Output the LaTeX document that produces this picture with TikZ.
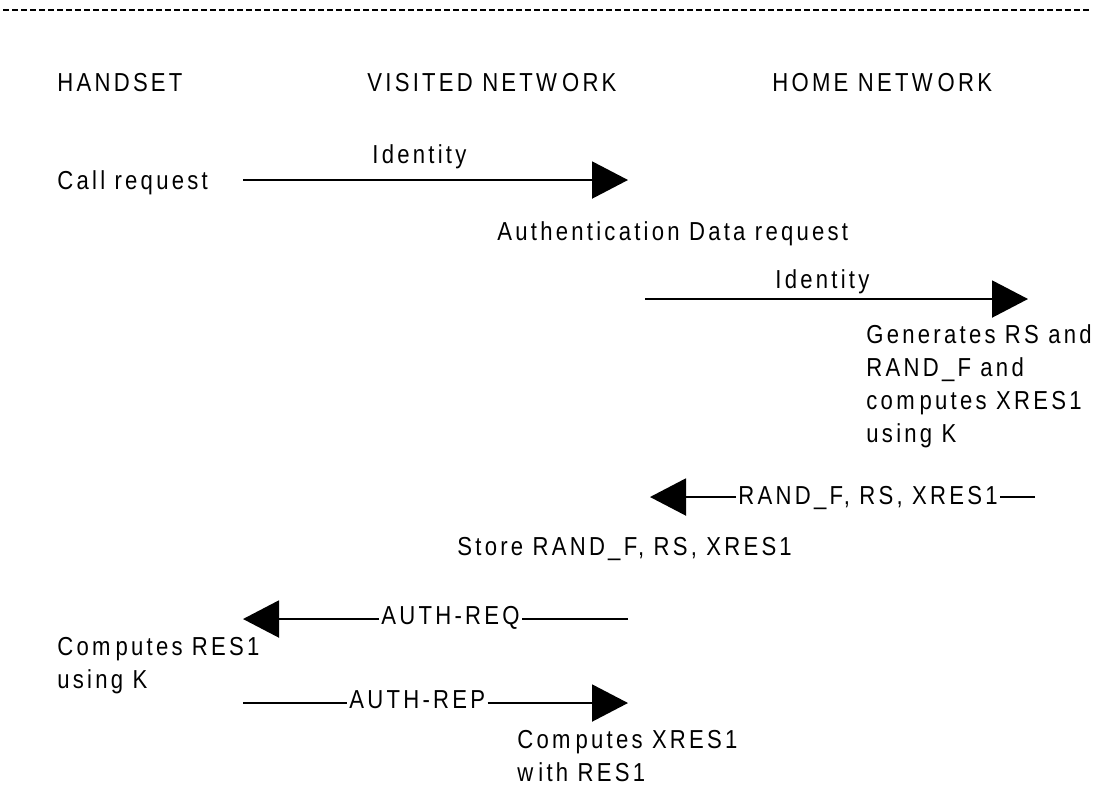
\documentclass[tikz,border=0pt]{standalone}
\usepackage{fontspec}
\setmainfont{Liberation Sans}[FakeStretch=0.85,LetterSpace=12.5]
\usetikzlibrary{arrows.meta}
\newcommand{\mgap}{\kern2.5pt}
\tikzset{
  lbl/.style={anchor=west,inner sep=0pt,align=left},
  inl/.style={anchor=base,inner sep=1pt},
  msg/.style={line width=1pt,-{Triangle[length=18pt,width=18.5pt]}},
  plain/.style={line width=1pt}
}
\begin{document}
\begin{tikzpicture}[x=0.5pt,y=-0.5pt,font=\fontsize{13}{16.5}\selectfont]
      \useasboundingbox (0,0) rectangle (1096,805);
      \coordinate (dl) at (3,10);
      \coordinate (dr) at (1090,10);
      \draw[line width=1pt,dash pattern=on 3pt off 1.5pt] (dl) -- (dr);
      \node[lbl] (hs) at (57,83) {HANDSET};
      \node[lbl] (vn) at (367,83) {VISITED NETW\mgap ORK};
      \node[lbl] (hn) at (772,83) {HOME NETW\mgap ORK};
      \node[lbl] (call) at (57,183) {Call request};
      \node[lbl] (id1) at (372,157) {Identity};
      \coordinate (a1s) at (243,180);
      \coordinate (a1e) at (628,180);
      \draw[msg] (a1s) -- (a1e);
      \node[lbl] (adr) at (497,234) {Authentication Data request};
      \node[lbl] (id2) at (775,282) {Identity};
      \coordinate (a2s) at (645,299);
      \coordinate (a2e) at (1028,299);
      \draw[msg] (a2s) -- (a2e);
      \node[lbl,anchor=north west] (gen) at (866,324) {Generates RS and\\RAND\_F and\\com\mgap putes XRES1\\using K};
      \node[inl,anchor=base west] (rand) at (736,504) {RAND\_F, RS, XRES1};
      \coordinate (a3s) at (1035,497);
      \coordinate (a3e) at (650,497);
      \draw[plain] (a3s) -- (rand.east |- a3s);
      \draw[msg] (rand.west |- a3s) -- (a3e);
      \node[lbl] (store) at (457,549) {Store RAND\_F, RS, XRES1};
      \node[inl,anchor=base west] (areq) at (379,624) {AUTH-REQ};
      \coordinate (a4s) at (628,619);
      \coordinate (a4e) at (243,619);
      \draw[plain] (a4s) -- (areq.east |- a4s);
      \draw[msg] (areq.west |- a4s) -- (a4e);
      \node[lbl,anchor=north west] (cres) at (57,637) {Com\mgap putes RES1\\using K};
      \node[inl,anchor=base west] (arep) at (347,708) {AUTH-REP};
      \coordinate (a5s) at (243,703);
      \coordinate (a5e) at (628,703);
      \draw[plain] (a5s) -- (arep.west |- a5s);
      \draw[msg] (arep.east |- a5s) -- (a5e);
      \node[lbl,anchor=north west] (cxres) at (517,730) {Com\mgap putes XRES1\\w\mgap ith RES1};
\end{tikzpicture}
\end{document}
